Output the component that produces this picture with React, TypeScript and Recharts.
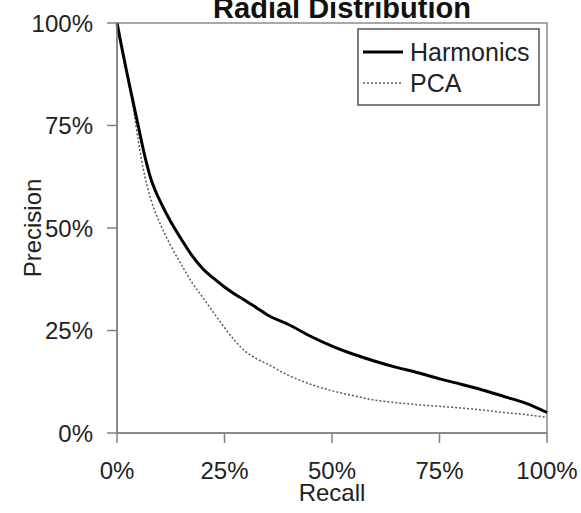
import React from 'react';
import { LineChart, Line, XAxis, YAxis, ReferenceArea, Label } from 'recharts';

const FONT = '"Liberation Sans", Arial, Helvetica, sans-serif';

const recall = [0, 1, 2, 3, 4, 5, 6, 7, 8, 9, 10, 12.5, 15, 17.5, 20, 22.5, 25, 27.5, 30, 32.5, 35, 40, 45, 50, 55, 60, 65, 70, 75, 80, 85, 90, 95, 100];
const harmonics = [100, 94.6, 89.4, 84.4, 79.5, 74.6, 69.7, 65.3, 61.6, 58.9, 56.6, 51.5, 47.2, 43.2, 40, 37.7, 35.6, 33.8, 32.2, 30.5, 28.8, 26.4, 23.6, 21.2, 19.2, 17.5, 16, 14.7, 13.2, 11.9, 10.5, 8.9, 7.3, 5];
const pca = [100, 94.6, 89.2, 83.8, 77.8, 71, 65, 60.3, 56.6, 53.6, 51.1, 45.7, 41, 36.6, 33, 29.3, 25.7, 22.4, 19.8, 18.1, 16.8, 14, 11.9, 10.3, 9.1, 8, 7.4, 6.9, 6.5, 6.1, 5.6, 5, 4.5, 3.8];

const xTicks = [0, 25, 50, 75, 100];
const yTicks = [0, 25, 50, 75, 100];
const seriesNames = ['Harmonics', 'PCA'];
const title = 'Radial Distribution';
const xTitle = 'Recall';
const yTitle = 'Precision';

const data = recall.map((r, i) => ({ recall: r, harmonics: harmonics[i], pca: pca[i] }));

const pct = (v: number) => `${v}%`;
const axisStroke = { stroke: '#808080', strokeWidth: 1.5 };
const tickStyle = { fill: '#222', fontSize: 24, fontFamily: FONT };

const XTitle = (props: any) => {
  const vb = props.viewBox || { x: 117, width: 430, y: 433, height: 80 };
  const cx = vb.x + vb.width / 2;
  return (
    <text x={cx} y={vb.y + 68} textAnchor="middle" fill="#222" fontSize={24} fontFamily={FONT}>
      {xTitle}
    </text>
  );
};

const YTitle = (props: any) => {
  const vb = props.viewBox || { x: 0, width: 117, y: 23, height: 410 };
  const cx = vb.x + 41;
  const cy = vb.y + vb.height / 2;
  return (
    <text x={cx} y={cy} transform={`rotate(-90 ${cx} ${cy})`} textAnchor="middle" fill="#222" fontSize={24} fontFamily={FONT}>
      {yTitle}
    </text>
  );
};

export default function App() {
  return (
    <div style={{ position: 'absolute', left: 0, top: 0, width: 581, height: 513, background: '#fff' }}>
      <LineChart width={581} height={513} data={data} margin={{ top: 23, right: 34, bottom: 0, left: 0 }}>
        <ReferenceArea x1={0} x2={100} y1={0} y2={100} fill="none" fillOpacity={0} stroke="#8c8c8c" strokeWidth={1.5} ifOverflow="visible" />
        <XAxis
          type="number"
          dataKey="recall"
          domain={[0, 100]}
          ticks={xTicks}
          interval={0}
          tickFormatter={pct}
          height={80}
          tickSize={10}
          tickMargin={19}
          axisLine={axisStroke}
          tickLine={axisStroke}
          tick={tickStyle}
        >
          <Label content={XTitle} />
        </XAxis>
        <YAxis
          type="number"
          domain={[0, 100]}
          ticks={yTicks}
          interval={0}
          tickFormatter={pct}
          width={117}
          tickSize={10}
          tickMargin={14}
          axisLine={axisStroke}
          tickLine={axisStroke}
          tick={tickStyle}
        >
          <Label content={YTitle} />
        </YAxis>
        <Line type="monotone" dataKey="pca" name={seriesNames[1]} stroke="#5a5a5a" strokeWidth={1.5} strokeDasharray="2 2" dot={false} isAnimationActive={false} />
        <Line type="monotone" dataKey="harmonics" name={seriesNames[0]} stroke="#000" strokeWidth={3} dot={false} isAnimationActive={false} />
      </LineChart>
      <svg width={581} height={513} style={{ position: 'absolute', left: 0, top: 0, pointerEvents: 'none' }}>
        <text x={342} y={18} textAnchor="middle" fontWeight="bold" fontSize={29} fontFamily={FONT} fill="#111">
          {title}
        </text>
        <rect x={358} y={29} width={181} height={76} fill="#fff" stroke="#555" strokeWidth={1.5} />
        <line x1={363} x2={403} y1={52} y2={52} stroke="#000" strokeWidth={3} />
        <text x={410} y={52} dy="0.35em" fontSize={25} fontFamily={FONT} fill="#222">{seriesNames[0]}</text>
        <line x1={363} x2={403} y1={83} y2={83} stroke="#5a5a5a" strokeWidth={1.5} strokeDasharray="2 2" />
        <text x={410} y={83} dy="0.35em" fontSize={25} fontFamily={FONT} fill="#222">{seriesNames[1]}</text>
      </svg>
    </div>
  );
}
